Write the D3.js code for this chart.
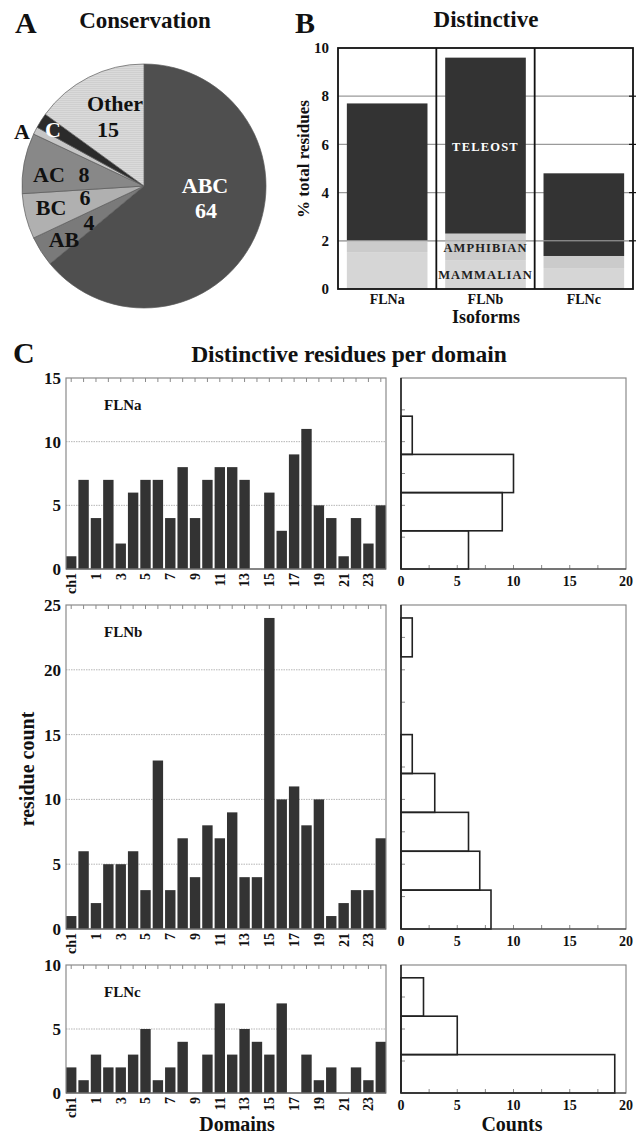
<!DOCTYPE html>
<html>
<head>
<meta charset="utf-8">
<script src="https://cdn.jsdelivr.net/npm/d3@7"></script>
<style>
  html, body { margin: 0; padding: 0; background: #fff; }
  svg text { font-family: 'Liberation Serif', 'Times New Roman', serif; font-weight: bold; }
</style>
</head>
<body>
<div id="chart"></div>
<script>
// ---- Data ----
const pieLabels = ['ABC', 'AB', 'BC', 'AC', 'A', 'C', 'Other'];
const pieValues = [64, 4, 6, 8, 1, 2, 15];

const isoforms = ['FLNa', 'FLNb', 'FLNc'];
const mammalian = [1.53, 1.2, 0.87];
const amphibian = [0.47, 1.1, 0.5];
const teleost = [5.7, 7.3, 3.43];
const bTicks = [0, 2, 4, 6, 8, 10];

const domains = ['ch1', 'ch2', '1', '2', '3', '4', '5', '6', '7', '8', '9', '10', '11', '12',
  '13', '14', '15', '16', '17', '18', '19', '20', '21', '22', '23', '24'];
const domainTickLabels = ['ch1', '1', '3', '5', '7', '9', '11', '13', '15', '17', '19', '21', '23'];

const flnaCounts = [1, 7, 4, 7, 2, 6, 7, 7, 4, 8, 4, 7, 8, 8, 7, 0, 6, 3, 9, 11, 5, 4, 1, 4, 2, 5];
const flnbCounts = [1, 6, 2, 5, 5, 6, 3, 13, 3, 7, 4, 8, 7, 9, 4, 4, 24, 10, 11, 8, 10, 1, 2, 3, 3, 7];
const flncCounts = [2, 1, 3, 2, 2, 3, 5, 1, 2, 4, 0, 3, 7, 3, 5, 4, 3, 7, 0, 3, 1, 2, 0, 2, 1, 4];

// histogram bins (lower edges, width 3) and counts
const binStarts = [0, 3, 6, 9, 12, 15, 18, 21];
const binWidth = 3;
const flnaHist = [6, 9, 10, 1, 0];
const flnbHist = [8, 7, 6, 3, 1, 0, 0, 1];
const flncHist = [19, 5, 2];
const countTicks = [0, 5, 10, 15, 20];

const W = 640, H = 1134;
const svg = d3.select('#chart').append('svg').attr('width', W).attr('height', H);

function label(x, y, txt, size, opts = {}) {
  return svg.append('text')
    .attr('x', x).attr('y', y)
    .attr('text-anchor', opts.anchor || 'middle')
    .attr('fill', opts.fill || '#111')
    .style('font-size', size + 'px')
    .style('letter-spacing', opts.ls || null)
    .text(txt);
}

// =========== Panel A: pie ===========
label(15, 33, 'A', 30, { anchor: 'start' });
label(145, 28, 'Conservation', 23);

const defs = svg.append('defs');
const pat = defs.append('pattern').attr('id', 'hatch')
  .attr('width', 4).attr('height', 2).attr('patternUnits', 'userSpaceOnUse');
pat.append('rect').attr('width', 4).attr('height', 2).attr('fill', '#dadada');
pat.append('rect').attr('width', 4).attr('height', 0.7).attr('fill', '#cbcbcb');

const pieColors = ['#4f4f4f', '#7a7a7a', '#b0b0b0', '#888888', '#c6c6c6', '#2b2b2b', 'url(#hatch)'];
const cx = 144, cy = 186, R = 122;
const pie = d3.pie().sort(null).value(d => d)(pieValues);
const arc = d3.arc().innerRadius(0).outerRadius(R);
const pg = svg.append('g').attr('transform', `translate(${cx},${cy})`);
pg.selectAll('path').data(pie).enter().append('path')
  .attr('d', arc)
  .attr('fill', (d, i) => pieColors[i])
  .attr('stroke', '#5a5a5a')
  .attr('stroke-width', 0.7);

// label placement offsets relative to pie centre
const pieText = [
  { t: 'ABC', dx: 61, dy: 7, fill: '#fff' },
  { t: '64', dx: 62, dy: 32, fill: '#fff' },
  { t: 'Other', dx: -29, dy: -75 },
  { t: '15', dx: -36, dy: -49 },
  { t: 'A', dx: -122, dy: -47 },
  { t: 'C', dx: -91, dy: -49, fill: '#fff' },
  { t: 'AC', dx: -95, dy: -4 },
  { t: '8', dx: -60, dy: -4 },
  { t: 'BC', dx: -93, dy: 29 },
  { t: '6', dx: -59, dy: 19 },
  { t: '4', dx: -55, dy: 44 },
  { t: 'AB', dx: -80, dy: 61 },
];
pieText.forEach(p => label(cx + p.dx, cy + p.dy, p.t, 22, { fill: p.fill || '#111' }));

// =========== Panel B: stacked bars ===========
label(295, 33, 'B', 30, { anchor: 'start' });
label(486, 27, 'Distinctive', 23);

const bm = { left: 338, right: 633, top: 48, bottom: 289 };
const xB = d3.scaleBand().domain(isoforms).range([bm.left, bm.right]).paddingInner(0.18).paddingOuter(0.09);
const yB = d3.scaleLinear().domain([0, 10]).range([bm.bottom, bm.top]);
const gB = svg.append('g');

gB.selectAll('.gridB').data(bTicks.slice(1, -1)).enter().append('line')
  .attr('x1', bm.left).attr('x2', bm.right)
  .attr('y1', d => yB(d)).attr('y2', d => yB(d))
  .attr('stroke', '#9a9a9a').attr('stroke-width', 1.2);

const stackRows = isoforms.map((k, i) => ({ iso: k, mammalian: mammalian[i], amphibian: amphibian[i], teleost: teleost[i] }));
const stack = d3.stack().keys(['mammalian', 'amphibian', 'teleost'])(stackRows);
const stackColors = { mammalian: '#d6d6d6', amphibian: '#cbcbcb', teleost: '#333333' };
stack.forEach(layer => {
  gB.selectAll(null).data(layer).enter().append('rect')
    .attr('x', d => xB(d.data.iso))
    .attr('width', xB.bandwidth())
    .attr('y', d => yB(d[1]))
    .attr('height', d => yB(d[0]) - yB(d[1]))
    .attr('fill', stackColors[layer.key]);
});

// grid line at 2 shows faintly over light bars
gB.append('line').attr('x1', bm.left).attr('x2', bm.right)
  .attr('y1', yB(2)).attr('y2', yB(2)).attr('stroke', '#a8a8a8').attr('stroke-width', 1);

// separators between isoforms
const sepX = isoforms.slice(1).map(k => xB(k) - xB.step() * xB.paddingInner() / 2);
gB.selectAll('.sep').data(sepX).enter().append('line')
  .attr('x1', d => d).attr('x2', d => d)
  .attr('y1', bm.top).attr('y2', bm.bottom)
  .attr('stroke', '#111').attr('stroke-width', 1.8);

gB.append('rect').attr('x', bm.left).attr('y', bm.top)
  .attr('width', bm.right - bm.left).attr('height', bm.bottom - bm.top)
  .attr('fill', 'none').attr('stroke', '#111').attr('stroke-width', 1.8);

// right-side tick marks
gB.selectAll('.rt').data(bTicks.slice(1, -1)).enter().append('line')
  .attr('x1', bm.right - 4).attr('x2', bm.right + 3)
  .attr('y1', d => yB(d)).attr('y2', d => yB(d))
  .attr('stroke', '#111').attr('stroke-width', 1.2);

gB.selectAll('.yl').data(bTicks).enter().append('text')
  .attr('x', bm.left - 9).attr('y', d => yB(d)).attr('dy', '0.35em')
  .attr('text-anchor', 'end').style('font-size', '15px').attr('fill', '#111')
  .text(d => d);

gB.selectAll('.xl').data(isoforms).enter().append('text')
  .attr('x', d => xB(d) + xB.bandwidth() / 2).attr('y', 304)
  .attr('text-anchor', 'middle').style('font-size', '14px').attr('fill', '#111')
  .text(d => d);
label(486, 323, 'Isoforms', 18);
svg.append('text').attr('transform', 'translate(309,159) rotate(-90)')
  .attr('text-anchor', 'middle').style('font-size', '17px').attr('fill', '#111')
  .text('% total residues');

const midB = xB('FLNb') + xB.bandwidth() / 2;
label(midB, 151, 'TELEOST', 12.5, { fill: '#fff', ls: '1.2px' });
label(midB, 252, 'AMPHIBIAN', 12.5, { fill: '#222', ls: '1.1px' });
label(midB, 279, 'MAMMALIAN', 12.5, { fill: '#222', ls: '1.1px' });

// =========== Panel C: per-domain bars + histograms ===========
label(13, 363, 'C', 30, { anchor: 'start' });
label(349, 362, 'Distinctive residues per domain', 23.5);

const xC = d3.scaleBand().domain(domains).range([66, 386]).paddingInner(0.16).paddingOuter(0);
const xH = d3.scaleLinear().domain([0, 20]).range([401, 626]);

const panels = [
  { name: 'FLNa', counts: flnaCounts, hist: flnaHist, max: 15, top: 378, bottom: 569, ticks: [0, 5, 10, 15] },
  { name: 'FLNb', counts: flnbCounts, hist: flnbHist, max: 25, top: 605, bottom: 929, ticks: [0, 5, 10, 15, 20, 25] },
  { name: 'FLNc', counts: flncCounts, hist: flncHist, max: 10, top: 965, bottom: 1093, ticks: [0, 5, 10] },
];

panels.forEach(p => {
  const y = d3.scaleLinear().domain([0, p.max]).range([p.bottom, p.top]);
  const g = svg.append('g');

  // grid
  g.selectAll(null).data(p.ticks.slice(1, -1)).enter().append('line')
    .attr('x1', 66).attr('x2', 386)
    .attr('y1', d => y(d)).attr('y2', d => y(d))
    .attr('stroke', '#b5b5b5').attr('stroke-width', 1).attr('stroke-dasharray', '1.5,1');

  // bars
  g.selectAll(null).data(p.counts).enter().append('rect')
    .attr('x', (d, i) => xC(domains[i]))
    .attr('width', xC.bandwidth())
    .attr('y', d => y(d))
    .attr('height', d => y(0) - y(d))
    .attr('fill', '#333');

  // frame
  g.append('rect').attr('x', 66).attr('y', p.top)
    .attr('width', 320).attr('height', p.bottom - p.top)
    .attr('fill', 'none').attr('stroke', '#8a8a8a').attr('stroke-width', 1.2);
  g.append('line').attr('x1', 66).attr('x2', 386).attr('y1', p.bottom).attr('y2', p.bottom)
    .attr('stroke', '#555').attr('stroke-width', 1.2);

  // top ticks
  g.selectAll(null).data(domains).enter().append('line')
    .attr('x1', d => xC(d) + xC.bandwidth() / 2).attr('x2', d => xC(d) + xC.bandwidth() / 2)
    .attr('y1', p.top).attr('y2', p.top + 4)
    .attr('stroke', '#8a8a8a').attr('stroke-width', 1);

  // y labels
  g.selectAll(null).data(p.ticks).enter().append('text')
    .attr('x', 61).attr('y', d => y(d)).attr('dy', '0.35em')
    .attr('text-anchor', 'end').style('font-size', '17px').attr('fill', '#111')
    .text(d => d);

  // x labels (rotated)
  g.selectAll(null).data(domainTickLabels).enter().append('text')
    .attr('transform', d => `translate(${xC(d) + xC.bandwidth() / 2},${p.bottom + 4}) rotate(-90)`)
    .attr('dy', '0.35em').attr('text-anchor', 'end')
    .style('font-size', '14px').attr('fill', '#111')
    .text(d => d);

  // isoform name
  g.append('text').attr('x', 104).attr('y', p.top + 32)
    .style('font-size', '15px').attr('fill', '#111').text(p.name);

  // ---- histogram ----
  const hg = svg.append('g');
  hg.append('rect').attr('x', xH(0)).attr('y', p.top)
    .attr('width', xH(20) - xH(0)).attr('height', p.bottom - p.top)
    .attr('fill', 'none').attr('stroke', '#8a8a8a').attr('stroke-width', 1.2);
  const minor = d3.range(0, p.max + 0.01, 2.5);
  hg.selectAll(null).data(minor.slice(1, -1)).enter().append('line')
    .attr('x1', xH(0)).attr('x2', xH(0) + 4)
    .attr('y1', d => y(d)).attr('y2', d => y(d))
    .attr('stroke', '#8a8a8a');
  hg.selectAll(null).data(d3.range(2.5, 20, 2.5)).enter().append('line')
    .attr('x1', d => xH(d)).attr('x2', d => xH(d))
    .attr('y1', p.bottom).attr('y2', p.bottom - 4)
    .attr('stroke', '#8a8a8a');
  hg.selectAll(null).data(p.hist).enter().append('rect')
    .attr('x', xH(0))
    .attr('y', (d, i) => y(Math.min(binStarts[i] + binWidth, p.max)))
    .attr('width', d => xH(d) - xH(0))
    .attr('height', (d, i) => y(binStarts[i]) - y(Math.min(binStarts[i] + binWidth, p.max)))
    .attr('fill', 'none').attr('stroke', '#222').attr('stroke-width', 1.6);
  hg.append('line').attr('x1', xH(0)).attr('x2', xH(0)).attr('y1', p.top).attr('y2', p.bottom)
    .attr('stroke', '#222').attr('stroke-width', 1.6);
  hg.append('line').attr('x1', xH(0)).attr('x2', xH(20)).attr('y1', p.bottom).attr('y2', p.bottom)
    .attr('stroke', '#333').attr('stroke-width', 1.2);
  hg.selectAll(null).data(countTicks).enter().append('text')
    .attr('x', d => xH(d)).attr('y', p.bottom + 17)
    .attr('text-anchor', 'middle').style('font-size', '14px').attr('fill', '#111')
    .text(d => d);
});

svg.append('text').attr('transform', 'translate(34,769) rotate(-90)')
  .attr('text-anchor', 'middle').style('font-size', '20px').attr('fill', '#111')
  .text('residue count');
label(237, 1131, 'Domains', 20);
label(512, 1131, 'Counts', 20);
</script>
</body>
</html>
